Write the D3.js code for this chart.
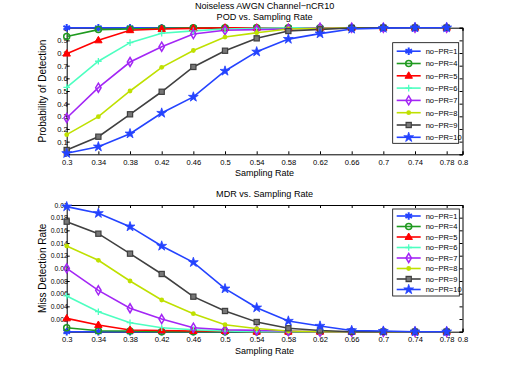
<!DOCTYPE html>
<html>
<head>
<meta charset="utf-8">
<script src="https://cdn.jsdelivr.net/npm/d3@7"></script>
<style>
body { margin: 0; background: #fff; }
svg { font-family: "Liberation Sans", Arial, sans-serif; }
</style>
</head>
<body>
<div id="chart"></div>
<script>
// sampling rates on the x axis
const rates = [0.3, 0.34, 0.38, 0.42, 0.46, 0.5, 0.54, 0.58, 0.62, 0.66, 0.7, 0.74, 0.78]
const xTicks = [0.3, 0.34, 0.38, 0.42, 0.46, 0.5, 0.54, 0.58, 0.62, 0.66, 0.7, 0.74, 0.78, 0.8]
const podTicks = [0, 0.1, 0.2, 0.3, 0.4, 0.5, 0.6, 0.7, 0.8, 0.9, 1]
const mdrTicks = [0, 0.002, 0.004, 0.006, 0.008, 0.01, 0.012, 0.014, 0.016, 0.018, 0.02]

const seriesNames = ["no\u2212PR=1", "no\u2212PR=4", "no\u2212PR=5", "no\u2212PR=6", "no\u2212PR=7", "no\u2212PR=8", "no\u2212PR=9", "no\u2212PR=10"]

// probability of detection
const pod1  = [1, 1, 1, 1, 1, 1, 1, 1, 1, 1, 1, 1, 1]
const pod4  = [0.93, 0.985, 0.99, 0.995, 1, 1, 1, 1, 1, 1, 1, 1, 1]
const pod5  = [0.795, 0.9, 0.98, 0.99, 0.995, 1, 1, 1, 1, 1, 1, 1, 1]
const pod6  = [0.529, 0.735, 0.882, 0.956, 0.975, 0.99, 0.995, 1, 1, 1, 1, 1, 1]
const pod7  = [0.287, 0.526, 0.729, 0.85, 0.95, 0.98, 0.985, 0.99, 1, 1, 1, 1, 1]
const pod8  = [0.155, 0.297, 0.5, 0.687, 0.82, 0.926, 0.96, 0.99, 0.995, 1, 1, 1, 1]
const pod9  = [0.034, 0.139, 0.316, 0.494, 0.69, 0.818, 0.916, 0.974, 0.987, 0.998, 1, 1, 1]
const pod10 = [0.008, 0.06, 0.163, 0.326, 0.453, 0.658, 0.81, 0.91, 0.953, 0.99, 0.997, 1, 1]

// miss detection rate
const mdr1  = [0, 0, 0, 0, 0, 0, 0, 0, 0, 0, 0, 0, 0]
const mdr4  = [0.00063, 0.00015, 0.0001, 0, 0, 0, 0, 0, 0, 0, 0, 0, 0]
const mdr5  = [0.0021, 0.00106, 0.00027, 0.0002, 0.0001, 0.0001, 0, 0, 0, 0, 0, 0, 0]
const mdr6  = [0.00564, 0.00316, 0.00142, 0.00063, 0.0003, 0.0001, 0, 0, 0, 0, 0, 0, 0]
const mdr7  = [0.01, 0.00653, 0.0037, 0.002, 0.00063, 0.0003, 0.0002, 0.0001, 0, 0, 0, 0, 0]
const mdr8  = [0.01353, 0.01127, 0.008, 0.005, 0.00284, 0.0011, 0.0005, 0.0001, 0, 0, 0, 0, 0]
const mdr9  = [0.01737, 0.01547, 0.01232, 0.00911, 0.00553, 0.00327, 0.00153, 0.00054, 0.0002, 0, 0, 0, 0]
const mdr10 = [0.01974, 0.0187, 0.01658, 0.01353, 0.01095, 0.00679, 0.00379, 0.00169, 0.0009, 0.0002, 0.0001, 0, 0]

const colors = ["#2443ff", "#1f9a1f", "#ff0000", "#4dffc0", "#a326f5", "#bfe000", "#404040", "#2443ff"]

const W = 512, H = 374
const svg = d3.select("#chart").append("svg").attr("width", W).attr("height", H)

// marker drawing for each series
function marker(g, i, c) {
  if (i == 0) {
    g.append("path").attr("d", d3.symbol(d3.symbolAsterisk, 40)())
      .attr("fill", "none").attr("stroke", c).attr("stroke-width", 2)
  } else if (i == 1) {
    g.append("circle").attr("r", 3).attr("fill", "none").attr("stroke", c).attr("stroke-width", 1.5)
  } else if (i == 2) {
    g.append("path").attr("d", d3.symbol(d3.symbolTriangle, 24)()).attr("transform", "translate(0,0.3)")
      .attr("fill", c).attr("stroke", c).attr("stroke-width", 1)
  } else if (i == 3) {
    g.append("path").attr("d", "M-3.3,0H3.3M0,-3.3V3.3").attr("stroke", c).attr("stroke-width", 1.3)
  } else if (i == 4) {
    g.append("path").attr("d", "M0,-4.5L2.7,0L0,4.5L-2.7,0Z").attr("fill", "none").attr("stroke", c).attr("stroke-width", 1.5)
  } else if (i == 5) {
    g.append("circle").attr("r", 2.4).attr("fill", c)
  } else if (i == 6) {
    g.append("rect").attr("x", -2.6).attr("y", -2.6).attr("width", 5.2).attr("height", 5.2)
      .attr("fill", "#777").attr("stroke", c).attr("stroke-width", 1.2)
  } else {
    g.append("path").attr("d", d3.symbol(d3.symbolStar, 30)()).attr("fill", c).attr("stroke", c).attr("stroke-width", 0.8)
  }
}

function panel(opt) {
  const x = d3.scaleLinear().domain([0.3, 0.8]).range([opt.left, opt.right])
  const y = d3.scaleLinear().domain(opt.domain).range([opt.bottom, opt.top])
  const g = svg.append("g")

  // axes with inward ticks on all sides
  const xb = g.append("g").attr("transform", "translate(0," + opt.bottom + ")")
    .call(d3.axisBottom(x).tickValues(xTicks).tickSize(-3).tickPadding(5).tickFormat(d3.format("")))
  g.append("g").attr("transform", "translate(0," + opt.top + ")")
    .call(d3.axisTop(x).tickValues(xTicks).tickSize(-3).tickFormat(""))
  const yl = g.append("g").attr("transform", "translate(" + opt.left + ",0)")
    .call(d3.axisLeft(y).tickValues(opt.ticks).tickSize(-3).tickPadding(-1).tickFormat(d3.format("")))
  g.append("g").attr("transform", "translate(" + opt.right + ",0)")
    .call(d3.axisRight(y).tickValues(opt.ticks).tickSize(-3).tickFormat(""))
  g.selectAll(".domain").attr("stroke", "#000")
  g.selectAll(".tick line").attr("stroke", "#000")
  g.selectAll(".tick text").attr("fill", "#000").attr("font-family", "Liberation Sans, Arial, sans-serif")
  xb.selectAll(".tick text").attr("font-size", 7.6)
  yl.selectAll(".tick text").attr("font-size", opt.yFont)

  const line = d3.line().x((d, i) => x(rates[i])).y(d => y(d))
  opt.data.forEach((vals, i) => {
    g.append("path").datum(vals).attr("d", line)
      .attr("fill", "none").attr("stroke", colors[i]).attr("stroke-width", 1.6)
  })
  opt.data.forEach((vals, i) => {
    vals.forEach((v, j) => {
      marker(g.append("g").attr("transform", "translate(" + x(rates[j]) + "," + y(v) + ")"), i, colors[i])
    })
  })

  // titles
  opt.title.forEach((t, k) => {
    svg.append("text").attr("x", (opt.left + opt.right) / 2).attr("y", opt.titleY + k * 11)
      .attr("text-anchor", "middle").attr("font-size", 9.1).text(t)
  })
  svg.append("text").attr("x", (opt.left + opt.right) / 2).attr("y", opt.bottom + 22)
    .attr("text-anchor", "middle").attr("font-size", 9).text("Sampling Rate")
  svg.append("text").attr("transform", "translate(" + (opt.left - 21) + "," + ((opt.top + opt.bottom) / 2) + ") rotate(-90)")
    .attr("text-anchor", "middle").attr("font-size", 10).text(opt.ylabel)

  // legend
  const lg = svg.append("g")
  lg.append("rect").attr("x", opt.legend.x).attr("y", opt.legend.y)
    .attr("width", opt.legend.w).attr("height", opt.legend.h)
    .attr("fill", "#fff").attr("stroke", "#000").attr("stroke-width", 0.8)
  seriesNames.forEach((n, i) => {
    const yy = opt.legend.y + opt.legend.first + i * opt.legend.step
    const x0 = opt.legend.x + 4
    lg.append("line").attr("x1", x0).attr("x2", x0 + 24).attr("y1", yy).attr("y2", yy)
      .attr("stroke", colors[i]).attr("stroke-width", 1.6)
    marker(lg.append("g").attr("transform", "translate(" + (x0 + 12) + "," + yy + ")"), i, colors[i])
    lg.append("text").attr("x", x0 + 29).attr("y", yy + 2.8).attr("font-size", 7.5).text(n)
  })
}

panel({
  left: 66.7, right: 462.5, top: 27.7, bottom: 154.3,
  domain: [0, 1], ticks: podTicks, yFont: 7.6,
  data: [pod1, pod4, pod5, pod6, pod7, pod8, pod9, pod10],
  title: ["Noiseless AWGN Channel\u2212nCR10", "POD vs. Sampling Rate"], titleY: 9,
  ylabel: "Probability of Detection",
  legend: { x: 392.7, y: 42.7, w: 66, h: 100.6, first: 8.5, step: 12.3 }
})

panel({
  left: 66.7, right: 462.5, top: 205, bottom: 331.7,
  domain: [0, 0.02], ticks: mdrTicks, yFont: 6.8,
  data: [mdr1, mdr4, mdr5, mdr6, mdr7, mdr8, mdr9, mdr10],
  title: ["MDR vs. Sampling Rate"], titleY: 197,
  ylabel: "Miss Detection Rate",
  legend: { x: 392.7, y: 209, w: 66.6, h: 87, first: 7, step: 10.5 }
})
</script>
</body>
</html>
